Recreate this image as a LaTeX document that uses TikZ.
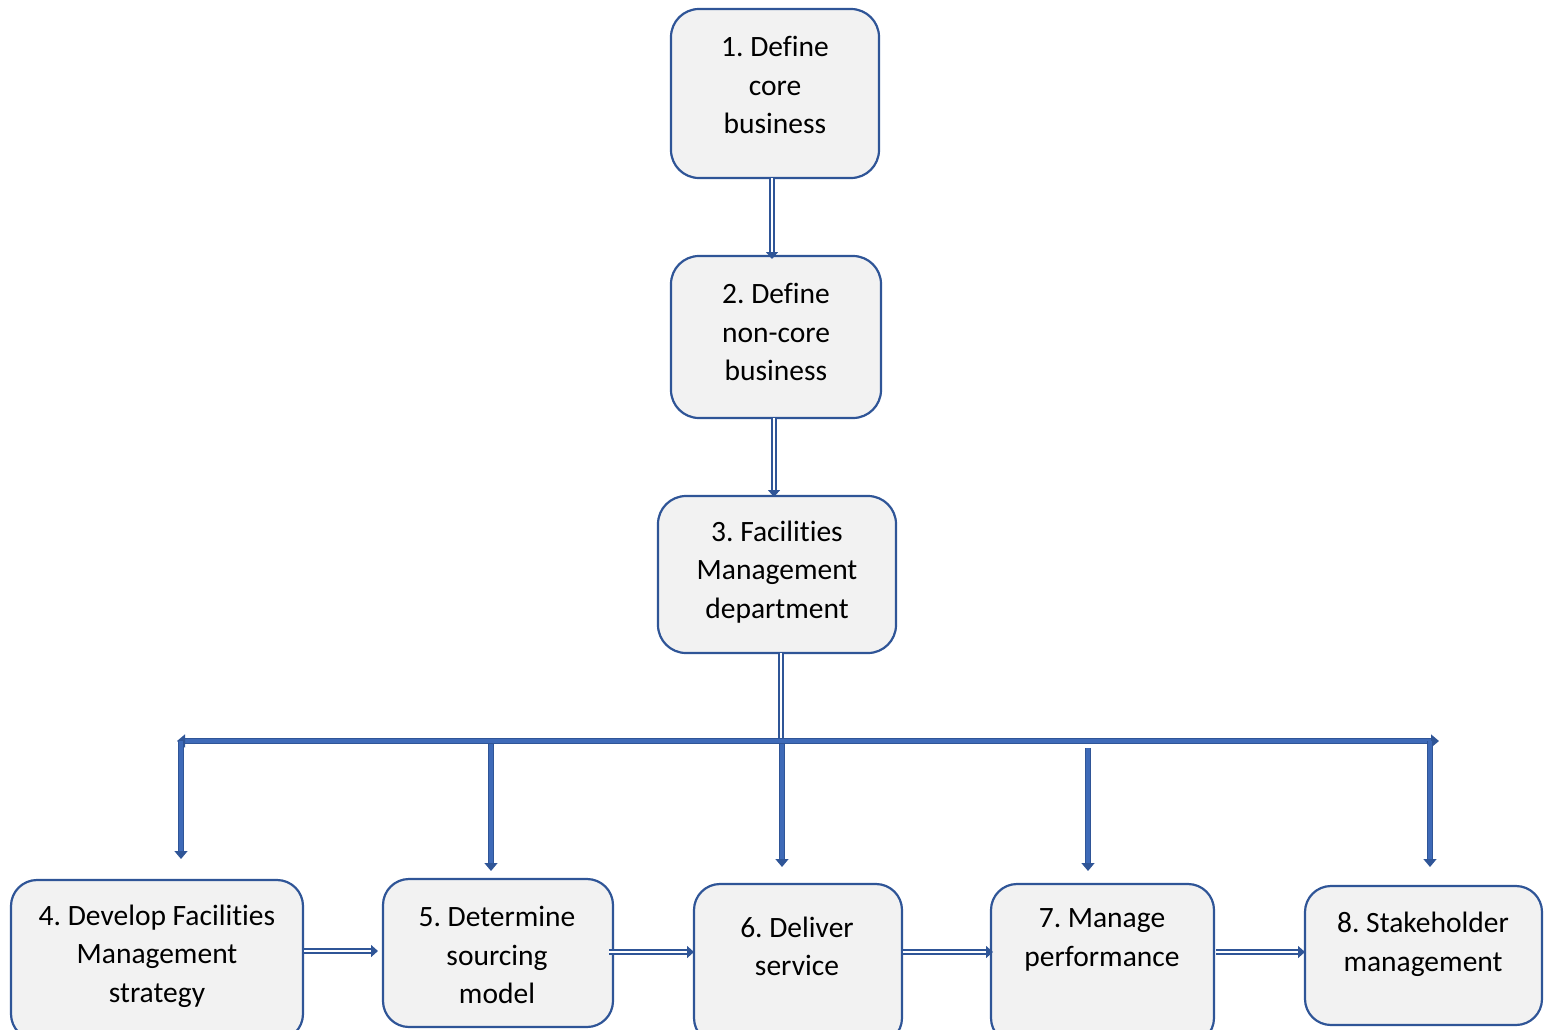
\documentclass[tikz,border=0pt]{standalone}
\usepackage{fontspec}
\setmainfont[Ligatures=NoCommon]{Carlito}
\usetikzlibrary{arrows.meta}
\frenchspacing
\definecolor{dblue}{HTML}{2F5597}
\definecolor{mblue}{HTML}{3E6AB8}
\definecolor{boxfill}{HTML}{F2F2F2}
\tikzset{
  stepbox/.style={draw=dblue, line width=2.2pt, fill=boxfill, rounded corners=28pt, inner sep=0pt},
  boxtext/.style={align=center, font=\fontsize{29.5}{38.5}\selectfont, inner sep=0pt},
  hollow/.style={draw=dblue, double=white, line width=1.5pt, double distance=2.6pt,
    -{Triangle[length=7pt,width=12pt]}},
  thick arrow/.style={draw=dblue, double=mblue, line width=1.5pt, double distance=3.4pt,
    -{Triangle[length=8pt,width=13pt]}},
}
\begin{document}
\begin{tikzpicture}[x=1pt,y=-1pt]
\useasboundingbox (0,0) rectangle (1551,1029);
\clip (0,0) rectangle (1551,1029);

% top chain
\node[stepbox, minimum width=208pt, minimum height=169pt] (b1) at (775,93.5) {};
\node[boxtext] (t1) at (775,85) {1. Define\\core\\business};
\node[stepbox, minimum width=210pt, minimum height=162pt] (b2) at (776,337) {};
\node[boxtext] (t2) at (776,332) {2. Define\\non-core\\business};
\node[stepbox, minimum width=238pt, minimum height=157pt] (b3) at (777,574.5) {};
\node[boxtext] (t3) at (777,572) {3. Facilities\\Management\\department};

% bottom row
\node[stepbox, rounded corners=26pt, minimum width=292pt, minimum height=160pt] (b4) at (157,960) {};
\node[boxtext] (t4) at (157,956) {4. Develop Facilities\\Management\\strategy};
\node[stepbox, rounded corners=26pt, minimum width=230pt, minimum height=148pt] (b5) at (498,953) {};
\node[boxtext] (t5) at (497,955) {5. Determine\\sourcing\\model};
\node[stepbox, rounded corners=26pt, minimum width=208pt, minimum height=160pt] (b6) at (798,964) {};
\node[boxtext] (t6) at (797,946.5) {6. Deliver\\service};
\node[stepbox, rounded corners=26pt, minimum width=223pt, minimum height=160pt] (b7) at (1102.5,964) {};
\node[boxtext] (t7) at (1102,940) {7. Manage\\performance};
\node[stepbox, rounded corners=26pt, minimum width=237pt, minimum height=139pt] (b8) at (1423.5,955.5) {};
\node[boxtext] (t8) at (1423,944.5) {8. Stakeholder\\management};

% vertical hollow arrows
\draw[hollow] (772,178) -- (772,259);
\draw[hollow] (774,418) -- (774,497);

% feed from box 3 down to the distribution bar
\coordinate (j) at (781,741);
\draw[draw=dblue, double=white, line width=1.5pt, double distance=2.6pt] (781,653) -- (j);

% distribution bar with arrows at both ends
\coordinate (barL) at (177,741);
\coordinate (barR) at (1439,741);
\draw[thick arrow, {Triangle[length=8pt,width=13pt]}-{Triangle[length=8pt,width=13pt]}] (barL) -- (barR);

% drops to the bottom row
\draw[thick arrow] (181,741) -- (181,859);
\draw[thick arrow] (491,744) -- (491,871);
\draw[thick arrow] (782,744) -- (782,867);
\draw[thick arrow] (1088,748) -- (1088,871);
\draw[thick arrow] (1430,741) -- (1430,867);

% horizontal hollow arrows along the bottom row
\draw[hollow] (304,951) -- (378,951);
\draw[hollow] (609,952) -- (694,952);
\draw[hollow] (903,952) -- (993,952);
\draw[hollow] (1216,952) -- (1305,952);
\end{tikzpicture}
\end{document}
